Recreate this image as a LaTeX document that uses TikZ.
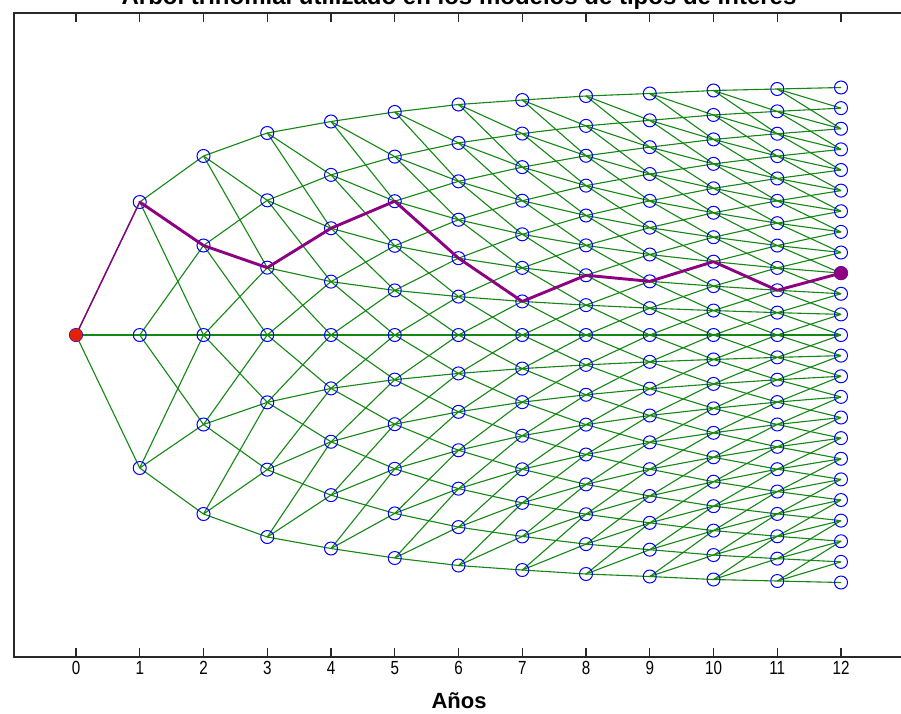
\documentclass[tikz,border=0pt]{standalone}
\usepackage{fontspec}
\setmainfont{Liberation Sans}
\pgfdeclarelayer{bg}
\pgfdeclarelayer{fg}
\pgfsetlayers{bg,main,fg}
\definecolor{edgegreen}{RGB}{20,135,20}
\definecolor{nodeblue}{RGB}{0,0,255}
\definecolor{pathpurple}{RGB}{140,0,130}
\definecolor{startred}{RGB}{225,35,0}
\definecolor{axisgray}{RGB}{40,40,40}
\newcommand{\ticktext}[1]{\scalebox{0.8}[1]{#1}}
\begin{document}
\begin{tikzpicture}[x=1pt,y=-1pt,
  edge/.style={edgegreen,line width=1.1pt},
  treenode/.style={circle,draw=nodeblue,line width=1pt,minimum size=13pt,inner sep=0pt},
  pathline/.style={pathpurple,line width=2.9pt,line join=round,line cap=round},
  ticklab/.style={font=\fontsize{19}{19}\selectfont,inner sep=0pt},
  axisline/.style={axisgray,line width=1.1pt}]
\useasboundingbox (0,0) rectangle (901,713);
\begin{pgfonlayer}{bg}
\fill[white] (0,0) rectangle (901,713);
\end{pgfonlayer}
\def\spc{{0,133,89.5,67.333,53.375,44.6,38.417,33.571,29.875,26.833,24.45,22.364,20.625}}
% tree nodes
\foreach \j in {0,...,12}{
  \pgfmathsetmacro\xx{76+63.75*\j}
  \pgfmathtruncatemacro\mm{2*\j}
  \foreach \m in {0,...,\mm}{
    \pgfmathsetmacro\yy{335-(\m-\j)*\spc[\j]}
    \node[treenode] (n-\j-\m) at (\xx,\yy) {};
  }
}
% branches
\begin{pgfonlayer}{bg}
\foreach \j in {0,...,11}{
  \pgfmathtruncatemacro\jn{\j+1}
  \pgfmathtruncatemacro\mm{2*\j}
  \foreach \m in {0,...,\mm}{
    \pgfmathtruncatemacro\ma{\m+1}
    \pgfmathtruncatemacro\mb{\m+2}
    \draw[edge] (n-\j-\m.center) -- (n-\jn-\m.center);
    \draw[edge] (n-\j-\m.center) -- (n-\jn-\ma.center);
    \draw[edge] (n-\j-\m.center) -- (n-\jn-\mb.center);
  }
}
\end{pgfonlayer}
% highlighted path
\begin{pgfonlayer}{fg}
\draw[pathpurple,line width=1.4pt] (n-0-0.center) -- (n-1-2.center);
\draw[pathline] (n-1-2.center) -- (n-2-3.center) -- (n-3-4.center) -- (n-4-6.center)
  -- (n-5-8.center) -- (n-6-8.center) -- (n-7-8.center) -- (n-8-10.center)
  -- (n-9-11.center) -- (n-10-13.center) -- (n-11-13.center) -- (n-12-15.center);
\fill[startred] (n-0-0.center) circle (6.5pt);
\fill[pathpurple] (n-12-15.center) circle (7pt);
\end{pgfonlayer}
% axes
\draw[axisline] (14,13) rectangle (906,657);
\foreach \i in {0,...,12}{
  \pgfmathsetmacro\tx{76+63.75*\i}
  \draw[axisline] (\tx,657) -- (\tx,648);
  \draw[axisline] (\tx,13) -- (\tx,22);
  \node[ticklab] (tick-\i) at (\tx,668) {\ticktext{\i}};
}
\node[anchor=base,font=\fontsize{22}{22}\selectfont\bfseries,inner sep=0pt] (xlab) at (459,708) {Años};
\node[anchor=base,font=\fontsize{24}{24}\selectfont\bfseries,inner sep=0pt] (title) at (459,4) {Árbol trinomial utilizado en los modelos de tipos de interés};
\end{tikzpicture}
\end{document}
